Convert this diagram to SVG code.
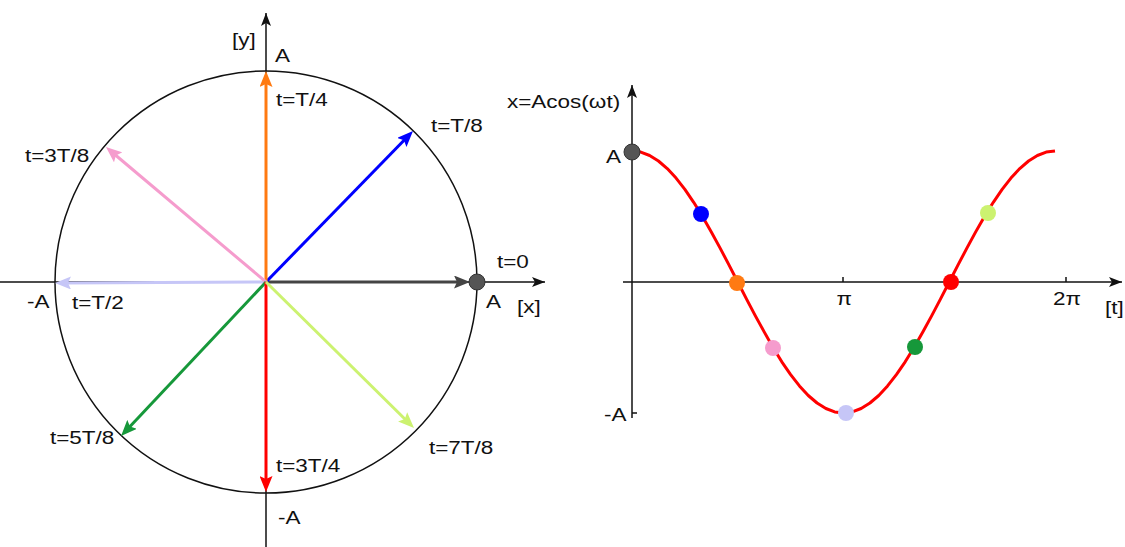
<svg xmlns="http://www.w3.org/2000/svg" width="1125" height="547" viewBox="0 0 1125 547">
<style>
text{font-family:"Liberation Sans",Arial,sans-serif;font-size:18px;fill:#111}
.ax{stroke:#111;stroke-width:1.5;fill:none}
.vec{stroke-width:3;fill:none}
.dot{stroke:none}
</style>
<defs>
<marker id="mk" markerUnits="userSpaceOnUse" markerWidth="14" markerHeight="10" refX="13" refY="5" orient="auto"><path d="M0,0 L13,5 L0,10 L3,5 z" fill="#111"/></marker>
<marker id="mBlue" markerUnits="userSpaceOnUse" markerWidth="17" markerHeight="13" refX="6" refY="6.5" orient="auto"><path d="M0,0 L16,6.5 L0,13 L3,6.5 z" fill="#0000ff"/></marker>
<marker id="mOrange" markerUnits="userSpaceOnUse" markerWidth="17" markerHeight="13" refX="6" refY="6.5" orient="auto"><path d="M0,0 L16,6.5 L0,13 L3,6.5 z" fill="#ff7a12"/></marker>
<marker id="mPink" markerUnits="userSpaceOnUse" markerWidth="17" markerHeight="13" refX="6" refY="6.5" orient="auto"><path d="M0,0 L16,6.5 L0,13 L3,6.5 z" fill="#f59ccd"/></marker>
<marker id="mLav" markerUnits="userSpaceOnUse" markerWidth="17" markerHeight="13" refX="6" refY="6.5" orient="auto"><path d="M0,0 L16,6.5 L0,13 L3,6.5 z" fill="#c6c6f7"/></marker>
<marker id="mGreen" markerUnits="userSpaceOnUse" markerWidth="17" markerHeight="13" refX="6" refY="6.5" orient="auto"><path d="M0,0 L16,6.5 L0,13 L3,6.5 z" fill="#16983a"/></marker>
<marker id="mRed" markerUnits="userSpaceOnUse" markerWidth="17" markerHeight="13" refX="6" refY="6.5" orient="auto"><path d="M0,0 L16,6.5 L0,13 L3,6.5 z" fill="#ff0000"/></marker>
<marker id="mYg" markerUnits="userSpaceOnUse" markerWidth="17" markerHeight="13" refX="6" refY="6.5" orient="auto"><path d="M0,0 L16,6.5 L0,13 L3,6.5 z" fill="#ccf270"/></marker>
<marker id="mGray" markerUnits="userSpaceOnUse" markerWidth="17" markerHeight="13" refX="6" refY="6.5" orient="auto"><path d="M0,0 L16,6.5 L0,13 L3,6.5 z" fill="#444"/></marker>
</defs>
<rect width="1125" height="547" fill="#fff"/>

<g id="circle-axes">
<circle cx="266" cy="282" r="211" fill="none" stroke="#111" stroke-width="1.5"/>
<line class="ax" x1="0" y1="282" x2="545" y2="282" marker-end="url(#mk)"/>
<line class="ax" x1="266" y1="547" x2="266" y2="13" marker-end="url(#mk)"/>
</g>

<g id="vectors">
<line class="vec" stroke="#c6c6f7" x1="266" y1="282" x2="65" y2="283" marker-end="url(#mLav)"/>
<line class="vec" stroke="#444" x1="266" y1="282" x2="460" y2="282" marker-end="url(#mGray)"/>
<line class="vec" stroke="#0000ff" x1="266" y1="282" x2="406" y2="138.2" marker-end="url(#mBlue)"/>
<line class="vec" stroke="#ff7a12" x1="266" y1="282" x2="266" y2="81" marker-end="url(#mOrange)"/>
<line class="vec" stroke="#f59ccd" x1="266" y1="282" x2="113.6" y2="153.5" marker-end="url(#mPink)"/>
<line class="vec" stroke="#16983a" x1="266" y1="282" x2="127.9" y2="428.7" marker-end="url(#mGreen)"/>
<line class="vec" stroke="#ff0000" x1="266" y1="282" x2="266" y2="482" marker-end="url(#mRed)"/>
<line class="vec" stroke="#ccf270" x1="266" y1="282" x2="406.9" y2="421" marker-end="url(#mYg)"/>
<circle cx="477" cy="282" r="8" fill="#555" stroke="#333" stroke-width="1"/>
</g>

<g id="circle-labels" transform="scale(1.25,1)">
<text x="185.6" y="46">[y]</text>
<text x="220" y="62">A</text>
<text x="220.8" y="106">t=T/4</text>
<text x="344.8" y="132">t=T/8</text>
<text x="20" y="162">t=3T/8</text>
<text x="397.6" y="268">t=0</text>
<text x="21.6" y="308">-A</text>
<text x="57.6" y="309">t=T/2</text>
<text x="388.8" y="308">A</text>
<text x="413.6" y="313">[x]</text>
<text x="40" y="444">t=5T/8</text>
<text x="343.2" y="454">t=7T/8</text>
<text x="220.8" y="472">t=3T/4</text>
<text x="222.4" y="524">-A</text>
</g>

<g id="graph-axes">
<line class="ax" x1="623" y1="282" x2="1122" y2="282" marker-end="url(#mk)"/>
<line class="ax" x1="632" y1="418" x2="632" y2="85" marker-end="url(#mk)"/>
<line class="ax" x1="632" y1="413" x2="637" y2="413"/>
<line class="ax" x1="843" y1="277" x2="843" y2="282"/>
<line class="ax" x1="1066" y1="277" x2="1066" y2="282"/>
</g>

<g id="curve">
<polyline fill="none" stroke="#ff0000" stroke-width="3" stroke-linejoin="round" points="632,151 640.81,152.1 649.63,155.5 658.44,161 667.25,168.6 676.06,178.1 684.88,189.4 693.69,202.3 702.5,216.5 711.31,231.9 720.13,248.1 728.94,264.9 737.75,282 746.56,299.1 755.38,315.9 764.19,331.9 773,347.5 781.81,361.8 790.63,374.6 799.44,385.9 808.25,395.5 817.06,403 825.88,408.5 834.69,411.9 843.5,413 852.31,411.9 861.13,408.5 869.94,403 878.75,395.5 887.56,385.9 896.38,374.6 905.19,361.8 914,347.5 922.81,331.9 931.63,315.9 940.44,299.1 949.25,282 958.06,264.9 966.88,248.1 975.69,231.9 984.5,216.5 993.31,202.3 1002.13,189.4 1010.94,178.1 1019.75,168.6 1028.56,161 1037.38,155.5 1046.19,152.1 1055,151"/>
</g>

<g id="graph-dots">
<circle cx="632" cy="152" r="8" fill="#555" stroke="#333" stroke-width="1"/>
<circle class="dot" cx="701" cy="214" r="8" fill="#0000ff"/>
<circle class="dot" cx="737" cy="283" r="8" fill="#ff7a12"/>
<circle class="dot" cx="773" cy="348" r="8" fill="#f59ccd"/>
<circle class="dot" cx="846" cy="413" r="8" fill="#c6c6f7"/>
<circle class="dot" cx="915" cy="347" r="8" fill="#16983a"/>
<circle class="dot" cx="951" cy="282" r="8" fill="#ff0000"/>
<circle class="dot" cx="988" cy="213" r="8" fill="#ccf270"/>
</g>

<g id="graph-labels" transform="scale(1.25,1)">
<text x="405.6" y="108">x=Acos(ωt)</text>
<text x="484.8" y="163">A</text>
<text x="669.2" y="305">π</text>
<text x="842.4" y="305">2π</text>
<text x="884" y="314">[t]</text>
<text x="483.2" y="421">-A</text>
</g>
</svg>
